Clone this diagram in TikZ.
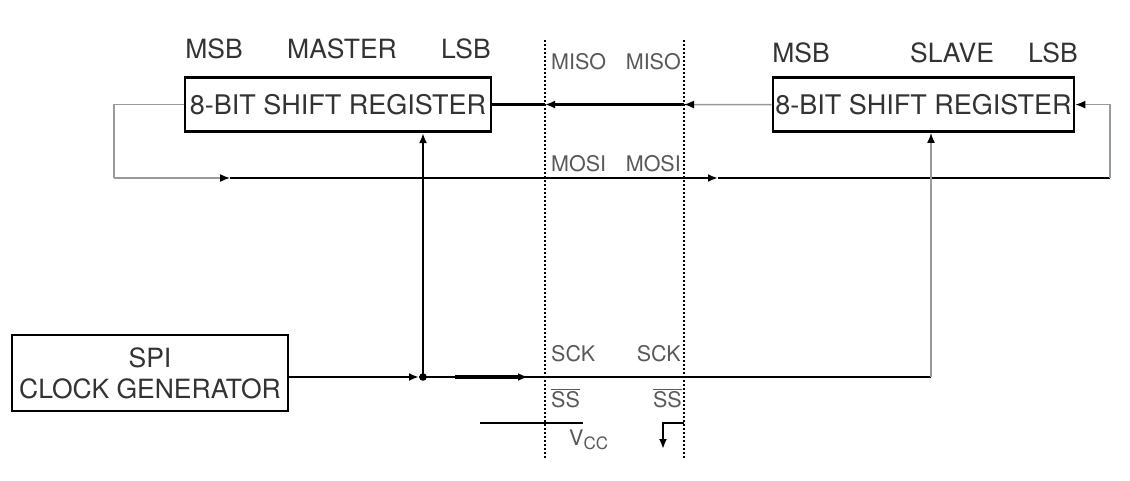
\documentclass[tikz,border=0pt]{standalone}
\usepackage{fontspec}
\setmainfont{TeX Gyre Heros}
\usetikzlibrary{arrows.meta,calc}

\tikzset{
	regbox/.style={draw, line width=2.7pt, inner sep=0pt, text=black!80, font=\fontsize{27}{30}\selectfont},
	toplabel/.style={anchor=base, inner sep=0pt, text=black!80, font=\fontsize{26.5}{30}\selectfont},
	pinlabel/.style={inner sep=0pt, text=black!65, font=\fontsize{21.5}{24}\selectfont},
	bline/.style={line width=2.3pt},
	gline/.style={line width=1.5pt, black!40},
	tip/.style={-{Latex[length=10pt,width=8pt,black]}},
	boundary/.style={line width=2.6pt, dash pattern=on 2pt off 2pt},
}

\begin{document}
\begin{tikzpicture}[x=1pt, y=-1pt]
		\useasboundingbox (0,0) rectangle (1130,481);
		% registers and clock
		\node[regbox, minimum width=306pt, minimum height=54.5pt] (master) at (338,104.5) {8-BIT SHIFT REGISTER};
		\node[regbox, minimum width=301pt, minimum height=54pt] (slave) at (923.5,104.6) {8-BIT SHIFT REGISTER};
		\node[regbox, minimum width=276pt, minimum height=76pt, align=center, font=\fontsize{26.5}{31}\selectfont] (clkgen) at (150,373) {SPI\\CLOCK GENERATOR};
		\node[toplabel] (mmsb) at (214,59) {MSB};
		\node[toplabel] (mname) at (342,59) {MASTER};
		\node[toplabel] (mlsb) at (466,59) {LSB};
		\node[toplabel] (smsb) at (801,63) {MSB};
		\node[toplabel] (sname) at (952,63) {SLAVE};
		\node[toplabel] (slsb) at (1053,63) {LSB};
		% the two boundaries
		\coordinate (bLtop) at (545,40);
		\coordinate (bLbot) at (545,459);
		\coordinate (bRtop) at (684,40);
		\coordinate (bRbot) at (684,459);
		\draw[boundary] (bLtop) -- (bLbot);
		\draw[boundary] (bRtop) -- (bRbot);
		\node[pinlabel, anchor=base west] (misoL) at (551,70) {MISO};
		\node[pinlabel, anchor=base east] (misoR) at (681,70) {MISO};
		\node[pinlabel, anchor=base west] (mosiL) at (551,172) {MOSI};
		\node[pinlabel, anchor=base east] (mosiR) at (681,172) {MOSI};
		\node[pinlabel, anchor=base west] (sckL) at (551,361.5) {SCK};
		\node[pinlabel, anchor=base east] (sckR) at (681,361.5) {SCK};
		\node[pinlabel, anchor=base west] (ssL) at (551,407) {$\overline{\mbox{SS}}$};
		\node[pinlabel, anchor=base east] (ssR) at (682,407) {$\overline{\mbox{SS}}$};
		\node[pinlabel, anchor=base west] (vcc) at (569,445) {V\raisebox{-4pt}{\fontsize{17}{20}\selectfont CC}};
		% MISO
		\coordinate (misoA) at (master.east -| bRtop);
		\coordinate (misoB) at (master.east -| bLtop);
		\draw[gline, tip] (slave.west) -- (misoA);
		\draw[bline, tip] (misoA) -- (misoB);
		\draw[bline] (misoB) -- (master.east);
		% MOSI
		\coordinate (mosiA) at (114,178);
		\coordinate (mosiB) at (230,178);
		\coordinate (mosiC) at (718,178);
		\coordinate (mosiD) at (1110,178);
		\draw[gline] (master.west) -| (mosiA);
		\draw[gline, tip] (mosiA) -- (mosiB);
		\draw[bline, tip] (mosiB) -- (mosiC);
		\draw[bline] (mosiC) -- (mosiD);
		\draw[gline, tip] (mosiD) |- (slave.east);
		% SCK
		\coordinate (clkA) at (419,377);
		\coordinate (tap) at (423,377);
		\coordinate (sckA) at (455,377);
		\coordinate (sckB) at (528,377);
		\coordinate (sckC) at (931,377);
		\draw[bline, tip] (clkgen.east |- clkA) -- (clkA);
		\draw[bline] (clkA) -- (sckC);
		\fill (tap) circle (3.8);
		\draw[bline, tip] (tap) -- (tap |- master.south);
		\draw[line width=3.4pt, tip] (sckA) -- (sckB);
		\draw[gline, tip] (sckC) -- (sckC |- slave.south);
		% SS
		\coordinate (vccA) at (480,423);
		\coordinate (vccB) at (583,423);
		\coordinate (gndA) at (684,423);
		\coordinate (gndB) at (663,449);
		\draw[bline] (vccA) -- (vccB);
		\draw[bline, tip] (gndA) -| (gndB);
	\end{tikzpicture}
\end{document}
